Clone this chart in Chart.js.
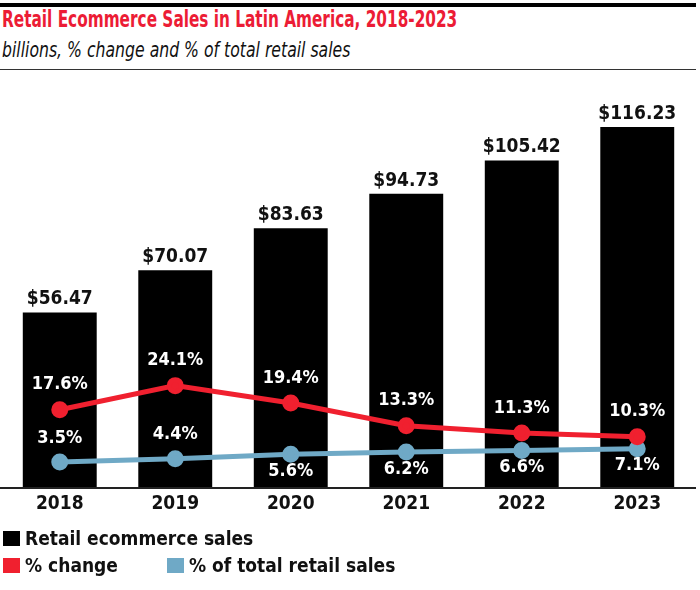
<!DOCTYPE html>
<html lang="en">
<head>
    <meta charset="UTF-8">
    <title>Retail Ecommerce Sales in Latin America</title>
    <script src="https://cdn.jsdelivr.net/npm/chart.js"></script>
    <style>
        body { margin: 0; width: 700px; height: 590px; background: #fff; position: relative; overflow: hidden;
               font-family: "DejaVu Sans Condensed", "Liberation Sans", sans-serif; }
        .rule-top { position: absolute; left: 0; top: 3px; width: 696px; height: 4px; background: #000; }
        .rule-sub { position: absolute; left: 0; top: 69px; width: 696px; height: 1px; background: #333; }
        h1 { position: absolute; left: 2px; top: 6px; margin: 0; font-size: 23px; font-weight: bold; color: #ec1c35;
             white-space: nowrap; transform: scaleX(0.74); transform-origin: left top; }
        .sub { position: absolute; left: 2px; top: 38px; margin: 0; font-size: 21px; font-style: italic; color: #111;
               white-space: nowrap; transform: scaleX(0.83); transform-origin: left top; }
        #wrap { position: absolute; left: 0; top: 90px; width: 700px; height: 440px; }
        .legend { position: absolute; font-size: 19px; font-weight: bold; color: #111; white-space: nowrap; }
        .legend span.sw { display: inline-block; width: 17px; height: 15px; vertical-align: -1px; margin-right: 5px; }
    </style>
</head>
<body>
    <div class="rule-top"></div>
    <h1>Retail Ecommerce Sales in Latin America, 2018-2023</h1>
    <p class="sub">billions, % change and % of total retail sales</p>
    <div class="rule-sub"></div>

    <div id="wrap"><canvas id="chart"></canvas></div>

    <div class="legend" style="left:3px; top:527px;"><span class="sw" style="background:#000"></span>Retail ecommerce sales</div>
    <div class="legend" style="left:3px; top:554px;"><span class="sw" style="background:#f0202f"></span>% change</div>
    <div class="legend" style="left:167px; top:554px;"><span class="sw" style="background:#6fa9c6"></span>% of total retail sales</div>

    <script>
        var years = ['2018', '2019', '2020', '2021', '2022', '2023'];
        var sales = [56.47, 70.07, 83.63, 94.73, 105.42, 116.23];
        var pctChange = [17.6, 24.1, 19.4, 13.3, 11.3, 10.3];
        var pctOfTotal = [3.5, 4.4, 5.6, 6.2, 6.6, 7.1];

        var RED = '#f0202f';
        var BLUE = '#6fa9c6';
        var FONT = '"DejaVu Sans Condensed", "Liberation Sans", sans-serif';

        // draws value labels, year labels and the baseline
        var labelsPlugin = {
            id: 'labels',
            afterDatasetsDraw: function (chart) {
                var ctx = chart.ctx;
                var area = chart.chartArea;
                ctx.save();
                ctx.textAlign = 'center';
                ctx.textBaseline = 'middle';

                ctx.font = 'bold 19px ' + FONT;
                chart.getDatasetMeta(0).data.forEach(function (bar, i) {
                    ctx.fillStyle = '#111';
                    ctx.fillText('$' + sales[i].toFixed(2), bar.x, bar.y - 13);
                });

                ctx.font = 'bold 18px ' + FONT;
                ctx.fillStyle = '#fff';
                chart.getDatasetMeta(1).data.forEach(function (pt, i) {
                    ctx.fillText(pctChange[i].toFixed(1) + '%', pt.x, pt.y - 25);
                });
                chart.getDatasetMeta(2).data.forEach(function (pt, i) {
                    var dy = i < 2 ? -24 : 17;
                    ctx.fillText(pctOfTotal[i].toFixed(1) + '%', pt.x, pt.y + dy);
                });

                // baseline
                ctx.strokeStyle = '#222';
                ctx.lineWidth = 2;
                ctx.beginPath();
                ctx.moveTo(0, area.bottom);
                ctx.lineTo(696, area.bottom);
                ctx.stroke();

                // year labels from the x scale
                ctx.font = 'bold 19px ' + FONT;
                var xs = chart.scales.x;
                ctx.fillStyle = '#111';
                years.forEach(function (y, i) {
                    ctx.fillText(y, xs.getPixelForValue(i), area.bottom + 16);
                });
                ctx.restore();
            }
        };

        new Chart(document.getElementById('chart'), {
            data: {
                labels: years,
                datasets: [
                    {
                        type: 'bar',
                        label: 'Retail ecommerce sales',
                        data: sales,
                        backgroundColor: '#000',
                        categoryPercentage: 1,
                        barPercentage: 0.64,
                        yAxisID: 'y',
                        order: 3
                    },
                    {
                        type: 'line',
                        label: '% change',
                        data: pctChange,
                        borderColor: RED,
                        backgroundColor: RED,
                        borderWidth: 5,
                        pointRadius: 6,
                        tension: 0,
                        yAxisID: 'y2',
                        order: 1
                    },
                    {
                        type: 'line',
                        label: '% of total retail sales',
                        data: pctOfTotal,
                        borderColor: BLUE,
                        backgroundColor: BLUE,
                        borderWidth: 5,
                        pointRadius: 6,
                        tension: 0,
                        yAxisID: 'y2',
                        order: 2
                    }
                ]
            },
            options: {
                responsive: true,
                maintainAspectRatio: false,
                animation: false,
                layout: { autoPadding: false, padding: { left: 2, right: 5, top: 0, bottom: 42 } },
                plugins: {
                    legend: { display: false },
                    tooltip: { enabled: false }
                },
                scales: {
                    x: { display: false },
                    y: { display: false, min: 0, max: 128.1 },
                    y2: { display: false, min: -3.5, max: 103.8 }
                }
            },
            plugins: [labelsPlugin]
        });
    </script>
</body>
</html>
